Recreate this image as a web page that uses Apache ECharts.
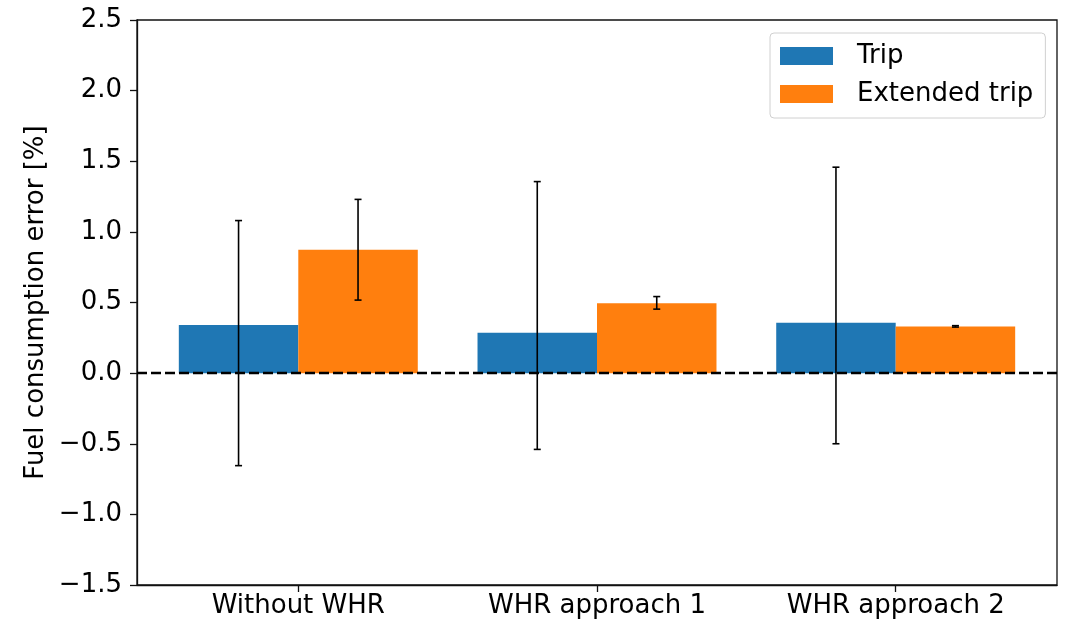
<!DOCTYPE html>
<html>
<head>
<meta charset="utf-8">
<script src="https://cdn.jsdelivr.net/npm/echarts@6/dist/echarts.min.js"></script>
<style>html,body{margin:0;padding:0;background:#fff}#c{width:1069px;height:626px}</style>
</head>
<body>
<div id="c"></div>
<script>
const categories = ['Without WHR', 'WHR approach 1', 'WHR approach 2'];
const seriesNames = ['Trip', 'Extended trip'];
const tripValues = [0.34, 0.285, 0.356];
const tripLow = [-0.655, -0.54, -0.50];
const tripHigh = [1.08, 1.356, 1.458];
const extValues = [0.873, 0.495, 0.33];
const extLow = [0.517, 0.453, 0.326];
const extHigh = [1.23, 0.542, 0.336];
const yTicks = [-1.5, -1.0, -0.5, 0.0, 0.5, 1.0, 1.5, 2.0, 2.5];

const FONT = 'DejaVu Sans';
const FS = 26;
const BAR_W = 0.4;

function barRender(offset) {
  return function (params, api) {
    const x = api.value(0) + offset;
    const v = api.value(1);
    const p0 = api.coord([x - BAR_W / 2, v]);
    const p1 = api.coord([x + BAR_W / 2, 0]);
    return {
      type: 'rect',
      shape: { x: p0[0], y: Math.min(p0[1], p1[1]), width: p1[0] - p0[0], height: Math.abs(p1[1] - p0[1]) },
      style: { fill: api.visual('color') }
    };
  };
}
function errRender(offset) {
  return function (params, api) {
    const x = api.value(0) + offset;
    const lo = api.coord([x, api.value(2)]);
    const hi = api.coord([x, api.value(3)]);
    const cap = 3.5;
    const st = { stroke: '#000', lineWidth: 1.6 };
    return {
      type: 'group',
      children: [
        { type: 'line', shape: { x1: lo[0], y1: lo[1], x2: hi[0], y2: hi[1] }, style: st },
        { type: 'line', shape: { x1: lo[0] - cap, y1: lo[1], x2: lo[0] + cap, y2: lo[1] }, style: st },
        { type: 'line', shape: { x1: hi[0] - cap, y1: hi[1], x2: hi[0] + cap, y2: hi[1] }, style: st }
      ]
    };
  };
}
function mk(values, lows, highs) {
  return categories.map((c, i) => [i, values[i], lows[i], highs[i]]);
}
const tripData = mk(tripValues, tripLow, tripHigh);
const extData = mk(extValues, extLow, extHigh);

const chart = echarts.init(document.getElementById('c'), null, { renderer: 'canvas' });
chart.setOption({
  animation: false,
  backgroundColor: '#fff',
  textStyle: { fontFamily: FONT },
  grid: { left: 137, right: 12, top: 20, bottom: 41, show: true, borderColor: '#111', borderWidth: 1.3, containLabel: false },
  legend: {
    data: seriesNames,
    orient: 'vertical',
    left: 770, top: 33,
    padding: [10, 12, 11, 10],
    itemWidth: 53, itemHeight: 18, itemGap: 12,
    icon: 'rect',
    backgroundColor: '#fff',
    borderColor: '#d0d0d0', borderWidth: 1, borderRadius: 4,
    textStyle: { fontSize: FS, color: '#000', fontFamily: FONT, padding: [0, 0, 0, 19] }
  },
  xAxis: {
    type: 'value', min: -0.54, max: 2.54,
    splitLine: { show: false },
    axisLine: { show: true, onZero: false, lineStyle: { color: '#111', width: 1.3 } },
    axisTick: { show: true, customValues: [0, 1, 2], length: 7, inside: false, lineStyle: { color: '#111', width: 1.3 } },
    axisLabel: { customValues: [0, 1, 2], formatter: v => categories[Math.round(v)], fontSize: FS, color: '#000', margin: 8, fontFamily: FONT }
  },
  yAxis: {
    type: 'value', min: -1.5, max: 2.5, interval: 0.5,
    name: 'Fuel consumption error [%]', nameLocation: 'middle', nameGap: 88, nameMoveOverlap: false,
    nameTextStyle: { fontSize: FS, color: '#000', fontFamily: FONT },
    splitLine: { show: false },
    axisLine: { show: true, onZero: false, lineStyle: { color: '#111', width: 1.3 } },
    axisTick: { show: true, length: 7, lineStyle: { color: '#111', width: 1.3 } },
    axisLabel: { fontSize: FS, color: '#000', margin: 15, fontFamily: FONT,
      formatter: v => v.toFixed(1).replace('-', '\u2212') }
  },
  series: [
    { name: 'Trip', type: 'custom', data: tripData, encode: { x: 0, y: 1 }, itemStyle: { color: '#1f77b4' }, renderItem: barRender(-0.2), z: 2 },
    { name: 'Extended trip', type: 'custom', data: extData, encode: { x: 0, y: 1 }, itemStyle: { color: '#ff7f0e' }, renderItem: barRender(0.2), z: 2,
      markLine: { silent: true, symbol: 'none', label: { show: false }, z: 5,
        lineStyle: { color: '#000', type: [10, 4], width: 2.4 }, data: [{ yAxis: 0 }] } },
    { name: 'tripErr', type: 'custom', data: tripData, encode: { x: 0, y: [2, 3] }, renderItem: errRender(-0.2), z: 6 },
    { name: 'extErr', type: 'custom', data: extData, encode: { x: 0, y: [2, 3] }, renderItem: errRender(0.2), z: 6 }
  ]
});
</script>
</body>
</html>
